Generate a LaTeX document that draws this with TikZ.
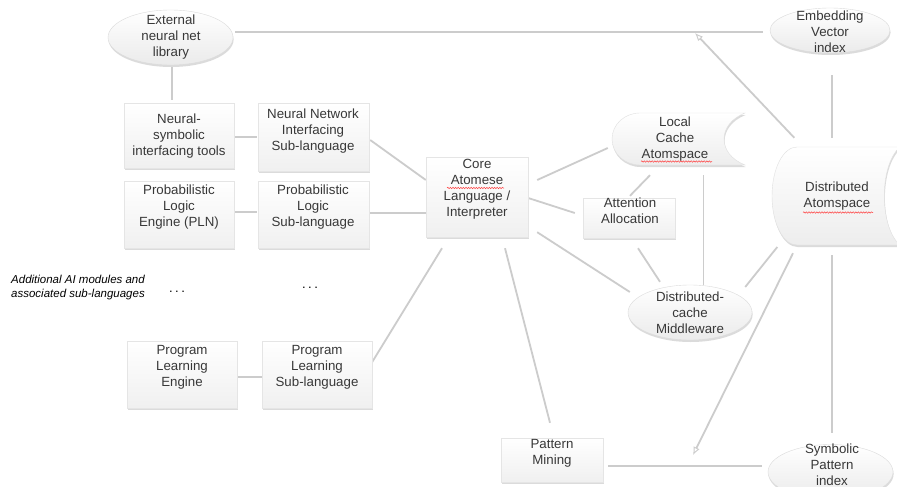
\documentclass[tikz,border=0pt]{standalone}
\usepackage{fontspec}
\setmainfont{Liberation Sans}
\usetikzlibrary{shapes.geometric,shadows,calc,arrows.meta,decorations.pathmorphing}
\tikzset{
  conn/.style={draw=black!20, line width=1.8pt},
  shadowed/.style={drop shadow={shadow xshift=0.6pt, shadow yshift=-2pt, opacity=0.25, fill=black!55}},
  boxshape/.style={rectangle, draw=black!10, line width=0.4pt, top color=white, bottom color=black!6, shadowed, inner sep=0pt},
  ellshape/.style={ellipse, draw=black!14, line width=0.4pt, top color=white, bottom color=black!8, shadowed, inner sep=0pt},
  holder/.style={rectangle, inner sep=0pt},
  lbl/.style={text=black!78, font=\fontsize{13.3}{16}\selectfont, align=center, inner sep=0pt},
  wavy/.style={draw=red!75, line width=0.5pt, decorate, decoration={snake, segment length=2.6pt, amplitude=0.7pt}},
  openarrow/.style={-{Latex[open,length=8pt,width=6.5pt,line width=0.9pt]}}
}
\begin{document}
\begin{tikzpicture}[x=1pt,y=-1pt]
\useasboundingbox (0,0) rectangle (897,487);
\clip (0,0) rectangle (897,487);
\fill[white] (0,0) rectangle (897,487);

% ---------- node frames (named), connectors drawn below the shapes
\node[holder, minimum width=125pt, minimum height=55pt] (ext) at (170.5,37.5) {};
\node[holder, minimum width=120pt, minimum height=45pt] (emb) at (830,30.5) {};
\node[holder, minimum width=110pt, minimum height=65pt] (nst) at (179,135.5) {};
\node[holder, minimum width=111pt, minimum height=68pt] (nnl) at (313.5,137) {};
\node[holder, minimum width=110pt, minimum height=67pt] (pln) at (179,214.5) {};
\node[holder, minimum width=111pt, minimum height=67pt] (pls) at (313.5,214.5) {};
\node[holder, minimum width=102pt, minimum height=80pt] (core) at (477,197) {};
\node[holder, minimum width=133pt, minimum height=52pt] (cache) at (678.5,139) {};
\node[holder, minimum width=92pt, minimum height=40pt] (att) at (629,218) {};
\node[holder, minimum width=133pt, minimum height=98pt] (das) at (836,196) {};
\node[holder, minimum width=124pt, minimum height=55pt] (dcm) at (690,312.5) {};
\node[holder, minimum width=102pt, minimum height=44pt] (pm) at (552,460) {};
\node[holder, minimum width=125pt, minimum height=55pt] (spi) at (830.5,472) {};
\node[holder, minimum width=110pt, minimum height=67pt] (ple) at (182,374.5) {};
\node[holder, minimum width=110pt, minimum height=67pt] (pls2) at (317,374.5) {};
\coordinate (tipA) at (695,33);
\coordinate (tipB) at (693,455);

\draw[conn] ($(ext.south)+(1.5,2)$) -- ($(nst.north)+(-7,-3)$);
\draw[conn] ($(ext.east)+(2,-5.5)$) -- ($(emb.west)+(-7,1.5)$);
\draw[conn, openarrow] ($(das.north west)+(25,-9)$) -- (tipA);
\draw[conn] ($(emb.south)+(2,22)$) -- ($(das.north)+(-4,-9)$);
\draw[conn] ($(nst.east)+(1,1.5)$) -- ($(nnl.west)+(-1,0)$);
\draw[conn] ($(pln.east)+(1,-2.5)$) -- ($(pls.west)+(-1,-2.5)$);
\draw[conn] ($(nnl.east)+(1,3)$) -- ($(core.west)+(0,-17)$);
\draw[conn] ($(pls.east)+(1,-1.5)$) -- ($(core.west)+(0,16)$);
\draw[conn] ($(core.east)+(9,-17)$) -- ($(cache.west)+(-4,9)$);
\draw[conn] ($(core.east)+(0,1)$) -- ($(att.west)+(-8,-5)$);
\draw[conn] ($(att.north)+(1,-2)$) -- ($(cache.south)+(-28.5,10)$);
\draw[conn] ($(core.south east)+(9,-5)$) -- ($(dcm.west)+(2,-20.5)$);
\draw[conn] ($(att.south)+(9,10)$) -- ($(dcm.north)+(-30,-3)$);
\draw[conn] ($(cache.south)+(25,10)$) -- ($(dcm.north)+(13.5,0)$);
\draw[conn] ($(dcm.east)+(-7,-25.5)$) -- ($(das.west)+(8,51)$);
\draw[conn, openarrow] ($(das.south)+(-43,8)$) -- (tipB);
\draw[conn] ($(das.south)+(-4,10)$) -- ($(spi.north)+(1.5,-11.5)$);
\draw[conn] ($(core.south)+(-35,11)$) -- ($(pls2.east)+(0,-12.5)$);
\draw[conn] ($(core.south)+(28,11)$) -- ($(pm.north)+(-2,-15)$);
\draw[conn] ($(pm.east)+(5,6)$) -- ($(spi.west)+(-6,-6)$);
\draw[conn] ($(ple.east)+(0,2.5)$) -- ($(pls2.west)+(0,2.5)$);

% ---------- shapes
\node[ellshape, minimum width=125pt, minimum height=55pt] at (ext) {};
\node[ellshape, minimum width=120pt, minimum height=45pt] at (emb) {};
\node[boxshape, minimum width=110pt, minimum height=65pt] at (nst) {};
\node[boxshape, minimum width=111pt, minimum height=68pt] at (nnl) {};
\node[boxshape, minimum width=110pt, minimum height=67pt] at (pln) {};
\node[boxshape, minimum width=111pt, minimum height=67pt] at (pls) {};
\node[boxshape, minimum width=102pt, minimum height=80pt] at (core) {};
\node[boxshape, minimum width=92pt, minimum height=40pt] at (att) {};
\node[ellshape, minimum width=124pt, minimum height=55pt] at (dcm) {};
\node[boxshape, minimum width=102pt, minimum height=44pt] at (pm) {};
\node[ellshape, minimum width=125pt, minimum height=55pt] at (spi) {};
\node[boxshape, minimum width=110pt, minimum height=67pt] at (ple) {};
\node[boxshape, minimum width=110pt, minimum height=67pt] at (pls2) {};
% local cache (stored-data shape)
\path[draw=black!12, line width=0.4pt, top color=white, bottom color=black!7, shadowed]
  (640,113) -- (745,113) .. controls (717,124) and (717,154) .. (745,165)
  -- (640,165) .. controls (624.5,165) and (612,153.4) .. (612,139)
  .. controls (612,124.6) and (624.5,113) .. (640,113) -- cycle;
% distributed atomspace (stored-data shape)
\path[draw=black!12, line width=0.4pt, top color=white, bottom color=black!7, shadowed]
  (797,147) -- (900,147) .. controls (879,165) and (879,227) .. (900,245)
  -- (797,245) .. controls (783,245) and (772,223) .. (772,196)
  .. controls (772,169) and (783,147) .. (797,147) -- cycle;

% ---------- labels
\node[lbl] (ext-t) at (171,37) {External\\neural net\\library};
\node[lbl] (emb-t) at (830,32) {Embedding\\Vector\\index};
\node[lbl] (nst-t) at (179,136) {Neural-\\symbolic\\interfacing tools};
\node[lbl] (nnl-t) at (313,131) {Neural Network\\Interfacing\\Sub-language};
\node[lbl] (pln-t) at (179,207.5) {Probabilistic\\Logic\\Engine (PLN)};
\node[lbl] (pls-t) at (313,207.5) {Probabilistic\\Logic\\Sub-language};
\node[lbl] (core-t) at (477,189) {Core\\Atomese\\Language /\\Interpreter};
\node[lbl] (cache-t) at (675,139) {Local\\Cache\\Atomspace};
\node[lbl] (att-t) at (630,211) {Attention\\Allocation};
\node[lbl] (das-t) at (837,196) {Distributed\\Atomspace};
\node[lbl] (dcm-t) at (690,313) {Distributed-\\cache\\Middleware};
\node[lbl] (pm-t) at (552,453) {Pattern\\Mining};
\node[lbl] (spi-t) at (832,465) {Symbolic\\Pattern\\index};
\node[lbl] (ple-t) at (182,367) {Program\\Learning\\Engine};
\node[lbl] (pls2-t) at (317,367) {Program\\Learning\\Sub-language};
\node[text=black, font=\fontsize{11.5}{14}\selectfont\itshape, align=left, anchor=west, inner sep=0pt] (add-t) at (11,287.5) {Additional AI modules and\\associated sub-languages};
\node[text=black, font=\fontsize{13}{14}\selectfont, inner sep=0pt] (dots1) at (177,292) {.\hspace{2.5pt}.\hspace{2.5pt}.};
\node[text=black, font=\fontsize{13}{14}\selectfont, inner sep=0pt] (dots2) at (310,288) {.\hspace{2.5pt}.\hspace{2.5pt}.};

% ---------- spell-check underlines
\draw[wavy] (447,188) -- (504,188);
\draw[wavy] (641,161.5) -- (712,161.5);
\draw[wavy] (803,212.5) -- (873,212.5);
\end{tikzpicture}
\end{document}
